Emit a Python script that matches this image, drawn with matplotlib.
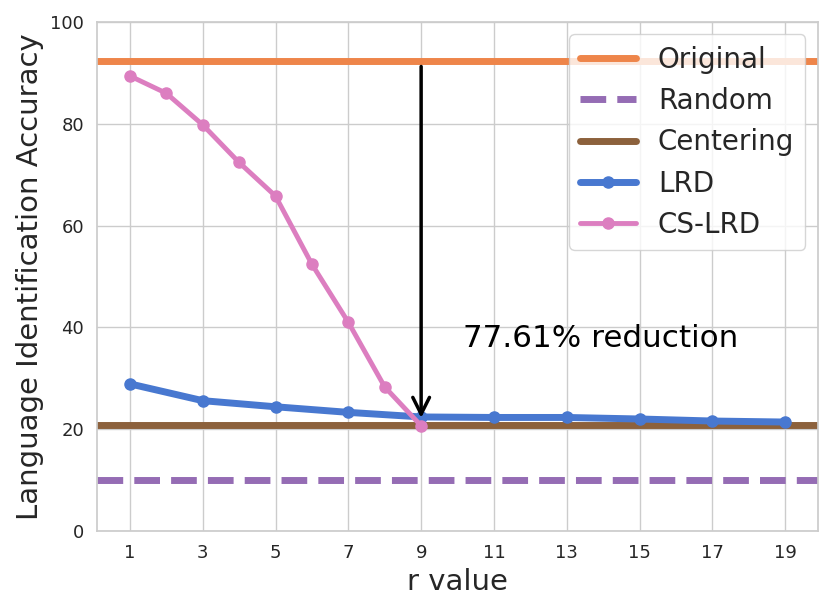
import numpy as np
import seaborn as sns
from matplotlib import pyplot as plt

# values
r_lrd = [1, 3, 5, 7, 9, 11, 13, 15, 17, 19]
acc_lrd = [28.9, 25.6, 24.4, 23.3, 22.4, 22.3, 22.3, 22.0, 21.6, 21.4]
r_cs = [1, 2, 3, 4, 5, 6, 7, 8, 9]
acc_cs = [89.4, 86.0, 79.8, 72.4, 65.8, 52.4, 41.0, 28.3, 20.66]
acc_original = 92.3
acc_random = 10.0
acc_centering = 20.9
reduction_text = "77.61% reduction"

sns.set_theme(style="whitegrid")
colors = sns.color_palette("muted")

fig, ax = plt.subplots(figsize=(8.3, 6.11), dpi=100)
fig.subplots_adjust(left=0.117, right=0.9855, top=0.964, bottom=0.131)

ax.axhline(acc_original, color=colors[1], lw=5, label="Original")
ax.axhline(acc_random, color=colors[4], lw=5, ls="--", label="Random")
ax.axhline(acc_centering, color=colors[5], lw=5, label="Centering")
ax.plot(r_lrd, acc_lrd, color=colors[0], lw=5, marker="o", markersize=8, label="LRD")
ax.plot(r_cs, acc_cs, color=colors[6], lw=3.5, marker="o", markersize=8, label="CS-LRD")

ax.annotate("", xy=(r_cs[-1], acc_cs[-1] + 1.0), xytext=(r_cs[-1], acc_original - 0.5),
            arrowprops=dict(arrowstyle="->", color="black", lw=2.5, mutation_scale=30))
ax.text(10.15, 37.9, reduction_text, fontsize=22.3, va="center", ha="left", color="black")

ax.set_ylim(0, 100)
ax.set_xticks(r_lrd)
ax.set_yticks([0, 20, 40, 60, 80, 100])
ax.tick_params(labelsize=13)
ax.set_xlabel("r value", fontsize=21, labelpad=4)
ax.set_ylabel("Language Identification Accuracy", fontsize=21)
ax.legend(loc="upper right", fontsize=20, handlelength=2.0, borderaxespad=0.45,
          labelspacing=0.48)

plt.savefig("out.png", dpi=100)
